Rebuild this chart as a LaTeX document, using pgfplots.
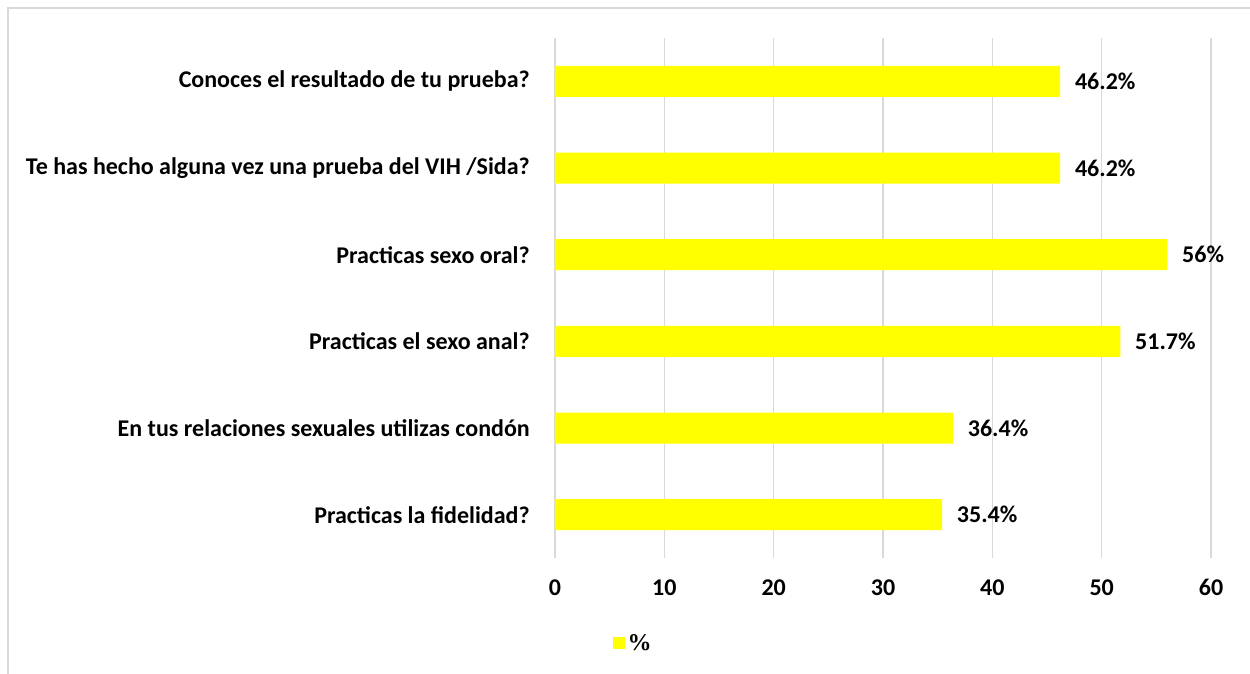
\documentclass[border=0pt]{standalone}
\usepackage{fontspec}
\setmainfont{Carlito}
\newfontfamily\legendfont{Liberation Serif}
\usepackage{pgfplots}
\pgfplotsset{compat=1.18}
\definecolor{baryellow}{HTML}{FFFF00}
\definecolor{gridgray}{HTML}{D9D9D9}
\definecolor{framegray}{HTML}{D9D9D9}

\begin{document}
\begin{tikzpicture}
\begin{scope}[x=0.75pt,y=-0.75pt]
\useasboundingbox (0,0) rectangle (1250,674);
\draw[framegray, line width=0.9pt] (8,674) -- (8,8) -- (1250,8);
\end{scope}
\begin{axis}[at={(416.25pt,-418.5pt)}, anchor=south west, scale only axis,
  width=492pt, height=390pt,
  xbar, bar width=23.25pt,
  xmin=0, xmax=60, ymin=-0.5, ymax=5.5,
  xtick={0,10,...,60}, ytick={0,...,5},
  yticklabels={Practicas la fidelidad?, En tus relaciones sexuales utilizas condón, Practicas el sexo anal?, Practicas sexo oral?, Te has hecho alguna vez una prueba del VIH /Sida?, Conoces el resultado de tu prueba?},
  /pgf/number format/assume math mode=true,
  axis line style={draw=none}, major tick length=0pt,
  xmajorgrids, major grid style={gridgray, line width=0.9pt},
  yticklabel style={font=\bfseries\fontsize{18}{21}\selectfont, inner sep=0pt, xshift=-18.75pt, anchor=east},
  xticklabel style={font=\bfseries\fontsize{18}{21}\selectfont, inner sep=0pt, yshift=-16pt, anchor=north},
  nodes near coords={\pgfmathprintnumber{\pgfplotspointmeta}\%},
  nodes near coords style={font=\bfseries\fontsize{18}{21}\selectfont, anchor=west, inner sep=0pt, xshift=11pt},
  legend style={draw=none, fill=none, at={(0.12,-0.1635)}, anchor=center, font=\legendfont\bfseries\fontsize{18}{21}\selectfont},
  legend image code/.code={\fill[#1] (0pt,-4.5pt) rectangle (9pt,4.5pt);},
]
\addplot[fill=baryellow, draw=none] coordinates {(35.4,0) (36.4,1) (51.7,2) (56,3) (46.2,4) (46.2,5)};
\addlegendentry{\%}
\end{axis}
\end{tikzpicture}
\end{document}
